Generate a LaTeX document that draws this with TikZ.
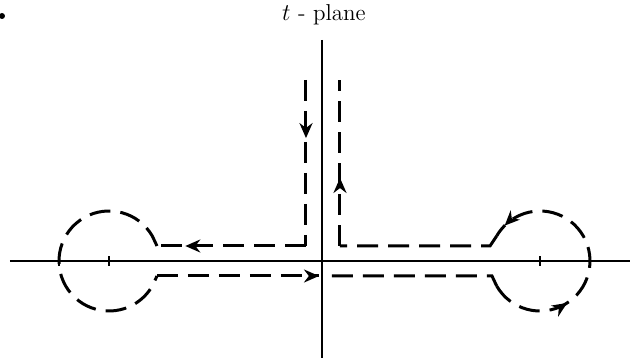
\documentclass[tikz,border=0pt]{standalone}
\usetikzlibrary{arrows.meta,decorations.markings}
\tikzset{
  axis/.style={line width=0.7pt},
  contour/.style={line width=1.5pt, dash pattern=on 10.5pt off 5pt},
  flowarrow/.style={postaction={decorate},
    decoration={markings, mark=at position #1 with {\arrow{Stealth[length=7.5pt,width=6.5pt]}}}},
}
\begin{document}
\begin{tikzpicture}[x=0.5pt,y=0.5pt]
    \useasboundingbox (-322,-99) rectangle (312,261);
    % Title
    \node (title) at (2,246) {\fontsize{11.5}{14}\selectfont $t$ - plane};
    \fill (-320,245) circle (1.5pt);

    % Axes and ticks
    \draw[axis] (-312,0) -- (308,0);
    \draw[axis] (0,221) -- (0,-97);
    \foreach \x in {-263,-213,218,268}
    {
        \draw[axis] (\x,-5) -- (\x,5);
    }

    % Circle centres
    \coordinate (lc) at (-213,0);
    \coordinate (rc) at (218,0);

    % Left half of the contour
    \draw[contour, flowarrow=0.35] (-16,181) -- (-16,15);
    \draw[contour, flowarrow=0.81] (-16,15) -- (-165,15);
    \draw[contour] (-165,15) -- ([shift={(30:50)}]lc)
        arc[start angle=30, end angle=330, radius=25pt] -- (-165,-15);
    \draw[contour, flowarrow=1] (-165,-15) -- (-3,-15);

    % Right half of the contour
    \draw[contour] (10,-15) -- (170,-15) -- ([shift={(210:50)}]rc);
    \draw[contour, postaction={decorate},
        decoration={markings,
            mark=at position 0.31 with {\arrow{Stealth[length=7.5pt,width=6.5pt]}},
            mark=at position 0.95 with {\arrow{Stealth[length=7.5pt,width=6.5pt]}}}]
        ([shift={(210:50)}]rc) arc[start angle=210, end angle=510, radius=25pt];
    \draw[contour] ([shift={(150:50)}]rc) -- (168,15) -- (18,15);
    \draw[contour, flowarrow=0.41] (18,15) -- (18,181);
\end{tikzpicture}
\end{document}
